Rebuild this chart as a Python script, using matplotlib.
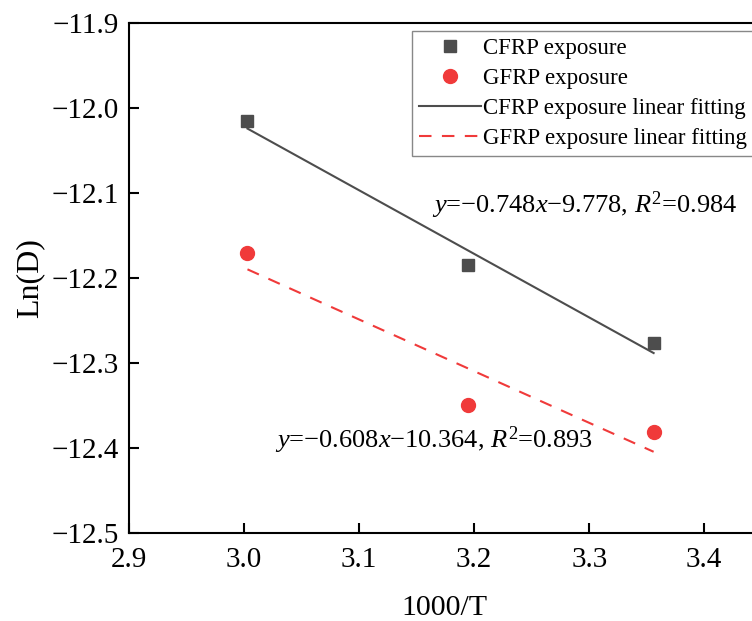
import numpy as np
import matplotlib
matplotlib.use("Agg")
import matplotlib.pyplot as plt
from matplotlib.ticker import FuncFormatter

plt.rcParams['font.family'] = ['Liberation Serif', 'DejaVu Serif']
plt.rcParams['mathtext.fontset'] = 'custom'
plt.rcParams['mathtext.rm'] = 'Liberation Serif'
plt.rcParams['mathtext.it'] = 'Liberation Serif:italic'

# data
inv_t = [3.003, 3.195, 3.356]
cfrp = [-12.015, -12.185, -12.276]
gfrp = [-12.171, -12.350, -12.381]
cfrp_fit = (-0.748, -9.778)
gfrp_fit = (-0.608, -10.364)
x_ticks = [2.9, 3.0, 3.1, 3.2, 3.3, 3.4]
y_ticks = [-12.5, -12.4, -12.3, -12.2, -12.1, -12.0, -11.9]

fig = plt.figure(figsize=(7.52, 6.21), dpi=100)
ax = fig.add_axes([0.1715, 0.1417, 0.918, 0.8213])

xf = np.array([inv_t[0], inv_t[-1]])
ax.plot(inv_t, cfrp, 's', color='#4d4d4d', ms=9, label='CFRP exposure', zorder=3)
ax.plot(inv_t, gfrp, 'o', color='#f03a3a', ms=10, label='GFRP exposure', zorder=3)
ax.plot(xf, cfrp_fit[0] * xf + cfrp_fit[1], '-', color='#4d4d4d', lw=1.5,
        label='CFRP exposure linear fitting')
ax.plot(xf, gfrp_fit[0] * xf + gfrp_fit[1], '--', color='#f03a3a', lw=1.5,
        dashes=(6, 5), label='GFRP exposure linear fitting')

ax.text(3.163, -12.114, r'$y$=−0.748$x$−9.778, $R^2$=0.984', fontsize=19, va='center')
ax.text(3.027, -12.391, r'$y$=−0.608$x$−10.364, $R^2$=0.893', fontsize=19, va='center')

ax.set_xlim(2.9, 3.5)
ax.set_ylim(-12.5, -11.9)
ax.set_xticks(x_ticks)
ax.set_yticks(y_ticks)
fmt = FuncFormatter(lambda v, p: ('%.1f' % v).replace('-', '\u2212'))
ax.xaxis.set_major_formatter(fmt)
ax.yaxis.set_major_formatter(fmt)
ax.tick_params(direction='in', length=7, width=1.5, labelsize=21)
ax.tick_params(axis='x', pad=10)
ax.tick_params(axis='y', pad=7)
for s in ax.spines.values():
    s.set_linewidth(1.5)

ax.set_xlabel('1000/T', fontsize=21.5)
ax.set_ylabel('Ln(D)', fontsize=23)
ax.xaxis.set_label_coords(0.457, -0.122)
ax.yaxis.set_label_coords(-0.123, 0.5)

leg = ax.legend(loc='upper left', bbox_to_anchor=(0.41, 0.985), borderaxespad=0,
                fontsize=16.5, fancybox=False, edgecolor='#888888', framealpha=1,
                handlelength=2.7, handletextpad=0.1, labelspacing=0.4, borderpad=0.3)
leg.get_frame().set_linewidth(1.0)

fig.savefig('out.png', dpi=100)
